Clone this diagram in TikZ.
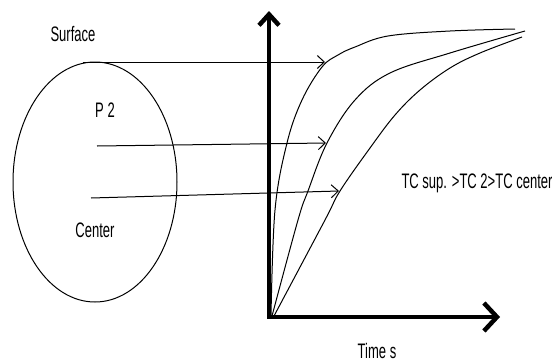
\documentclass[tikz,border=0pt]{standalone}
\usepackage{fontspec}
\setmainfont{Liberation Sans}
\usetikzlibrary{positioning,shapes.geometric,arrows.meta}
\tikzset{
  lbl/.style={font=\fontsize{21}{23}\selectfont,xscale=0.62,inner sep=0pt},
  body/.style={ellipse,draw=black,line width=1pt,inner sep=0pt,minimum width=164pt,minimum height=240pt},
  curve/.style={line width=1pt,draw=black},
  probe/.style={-{Straight Barb[length=7pt,width=13pt]},line width=1pt,draw=black},
  axis/.style={line width=4.5pt,draw=black,line join=miter,
    {Straight Barb[length=11pt,width=20pt]}-{Straight Barb[length=13pt,width=28pt]}}
}
\begin{document}
\begin{tikzpicture}[x=1pt,y=-1pt]
\useasboundingbox (0,0) rectangle (552,362);
% Cuerpo
\node[body] (cuerpo) at (95,182) {};
\node[lbl] (sup) at (73,34) {Surface};
\node[lbl] (p2) at (105,110) {P 2};
\node[lbl] (cen) at (95,230) {Center};

% Ejes
\coordinate (o) at (269,317);
\coordinate (ytop) at (269,11);
\coordinate (xend) at (500,317);
\draw[axis] (ytop) -- (o) -- (xend);
\node[lbl] (tiempo) at (377,351) {Time s};
\node[lbl] (orden) at (477,183) {TC sup. >TC 2>TC center};

% Curvas
\draw[curve] plot[smooth,tension=0.6] coordinates {(271,316) (275,210) (287,143) (302,100) (322,67) (338,55) (355,47) (388,36) (450,31) (515,29)};
\draw[curve] plot[smooth,tension=0.6] coordinates {(272,316) (298,220) (308,191) (327,143) (355,100) (390,73) (450,53) (525,31)};
\draw[curve] plot[smooth,tension=0.6] coordinates {(274,316) (325,220) (340,191) (370,148) (395,115) (420,90) (450,68) (480,53) (522,37)};

% Flechas
\coordinate (s0) at (83,62);   \coordinate (s1) at (325,62);
\coordinate (m0) at (97,146);  \coordinate (m1) at (326,143);
\coordinate (c0) at (91,198);  \coordinate (c1) at (339,191);
\draw[probe] (s0) -- (s1);
\draw[probe] (m0) -- (m1);
\draw[probe] (c0) -- (c1);
\end{tikzpicture}
\end{document}
